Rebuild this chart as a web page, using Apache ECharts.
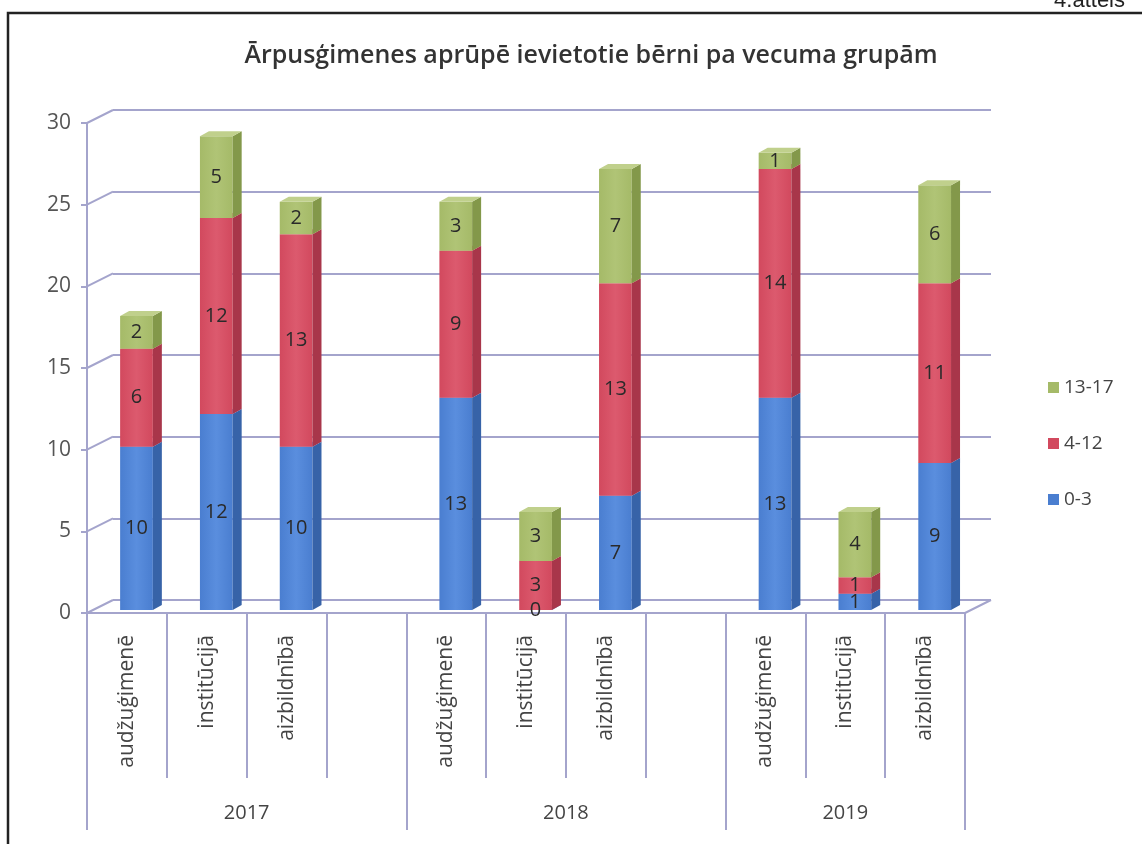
<!DOCTYPE html>
<html>
<head>
<meta charset="utf-8">
<script src="https://cdn.jsdelivr.net/npm/echarts@6/dist/echarts.min.js"></script>
<style>
  html, body { margin: 0; padding: 0; background: #fff; }
  #chart { width: 1142px; height: 844px; }
</style>
</head>
<body>
<div id="chart"></div>
<script>
// kategorijas (tukšās ir atstarpes starp gadiem)
const categories = ['audžuģimenē', 'institūcijā', 'aizbildnībā', '',
                    'audžuģimenē', 'institūcijā', 'aizbildnībā', '',
                    'audžuģimenē', 'institūcijā', 'aizbildnībā'];
const years = ['2017', '2018', '2019'];
const groupSizes = [4, 4, 3];
const yTicks = [0, 5, 10, 15, 20, 25, 30];

const age0_3 = [10, 12, 10, null, 13, 0, 7, null, 13, 1, 9];
const age4_12 = [6, 12, 13, null, 9, 3, 13, null, 14, 1, 11];
const age13_17 = [2, 5, 2, null, 3, 3, 7, null, 1, 4, 6];

const groups = [
  { name: '0-3', values: age0_3, front: '#4a7ed0', light: '#5a8ede', side: '#3763a8', top: '#76a0e2' },
  { name: '4-12', values: age4_12, front: '#d2495e', light: '#dc5a6e', side: '#a8364a', top: '#e07486' },
  { name: '13-17', values: age13_17, front: '#a5ba68', light: '#b0c476', side: '#83984a', top: '#c0d08c' }
];

// grupu robežas un centri uz x ass
let bounds = [0], centers = [];
groupSizes.forEach(function (s) {
  let start = bounds[bounds.length - 1];
  bounds.push(start + s);
  centers.push(start + s / 2);
});

const DX = 26, DY = -13;     // aizmugures sienas nobīde
const BDX = 9, BDY = -5;     // stabiņa dziļums

var myChart = echarts.init(document.getElementById('chart'));

let stackBase = categories.map(() => 0);
let barSeries = groups.map(function (g) {
  let data = g.values.map(function (v, i) {
    if (v == null) return [i, null, null, null];
    let b = stackBase[i];
    stackBase[i] += v;
    return [i, b, b + v, v];
  });
  return {
    name: g.name,
    type: 'custom',
    xAxisIndex: 0,
    yAxisIndex: 0,
    itemStyle: { color: g.front },
    data: data,
    renderItem: function (params, api) {
      if (api.value(3) == null || isNaN(api.value(3))) return;
      let slotW = api.size([1, 0])[0];
      let cx = api.coord([api.value(0), 0])[0] + slotW * 0.12;
      let w = slotW * 0.41;
      let yb = api.coord([0, api.value(1)])[1] - 3;
      let yt = api.coord([0, api.value(2)])[1] - 3;
      let l = cx - w / 2, r = cx + w / 2;
      return {
        type: 'group',
        children: [
          { type: 'rect', shape: { x: l, y: yt, width: w, height: yb - yt },
            style: { fill: new echarts.graphic.LinearGradient(0, 0, 1, 0, [
              { offset: 0, color: g.front }, { offset: 0.5, color: g.light }, { offset: 1, color: g.front }]) } },
          { type: 'polygon', shape: { points: [[r, yt], [r + BDX, yt + BDY], [r + BDX, yb + BDY], [r, yb]] },
            style: { fill: g.side } },
          { type: 'polygon', shape: { points: [[l, yt], [l + BDX, yt + BDY], [r + BDX, yt + BDY], [r, yt]] },
            style: { fill: g.top } },
          { type: 'text', z2: 100,
            style: { text: String(api.value(3)), x: cx, y: (yt + yb) / 2,
              align: 'center', verticalAlign: 'middle',
              font: '20px "Open Sans", sans-serif', fill: '#2a2a2a' } }
        ]
      };
    }
  };
});

let option = {
  animation: false,
  backgroundColor: '#fff',
  title: [{
    text: 'Ārpusģimenes aprūpē ievietotie bērni pa vecuma grupām',
    left: 586, top: 38, textAlign: 'center',
    textStyle: { fontFamily: 'Open Sans', fontSize: 25, fontWeight: 600, color: '#333' }
  }, {
    text: '4.attēls',
    right: 12, top: -15,
    textStyle: { fontFamily: 'Liberation Sans', fontSize: 22, fontWeight: 'normal', color: '#222' }
  }],
  graphic: [{
    type: 'rect', shape: { x: 8, y: 13, width: 1160, height: 860 },
    style: { fill: 'none', stroke: '#222', lineWidth: 2.5 }, silent: true
  }],
  legend: {
    orient: 'vertical', left: 1043, top: 373, itemGap: 37,
    itemWidth: 11, itemHeight: 11, icon: 'rect',
    data: ['13-17', '4-12', '0-3'],
    textStyle: { fontFamily: 'Open Sans', fontSize: 19, color: '#444' }
  },
  grid: [
    { left: 87, right: 177, top: 123, bottom: 231 },
    { left: 87 + DX, right: 177 - DX, top: 123 + DY, bottom: 231 - DY }
  ],
  xAxis: [{
    type: 'category', gridIndex: 0, data: categories, position: 'bottom',
    axisLine: { lineStyle: { color: '#a4a4cc', width: 2 } },
    axisTick: { show: true, interval: 0, length: 165, lineStyle: { color: '#a4a4cc', width: 2 } },
    axisLabel: { interval: 0, rotate: 90, margin: 22, fontFamily: 'Open Sans', fontSize: 21, color: '#444' }
  }, {
    type: 'value', gridIndex: 0, position: 'bottom', min: 0, max: categories.length,
    axisLine: { show: false },
    splitLine: { show: false },
    axisTick: { show: true, customValues: bounds, length: 217, lineStyle: { color: '#a4a4cc', width: 2 } },
    axisLabel: {
      customValues: centers, margin: 190, fontFamily: 'Open Sans', fontSize: 20, color: '#444',
      formatter: function (v) { let i = centers.indexOf(v); return i >= 0 ? years[i] : ''; }
    }
  }, {
    type: 'category', gridIndex: 1, data: categories, show: false
  }],
  yAxis: [{
    type: 'value', gridIndex: 0, min: 0, max: 30, interval: 5,
    axisLine: { show: true, lineStyle: { color: '#a4a4cc', width: 2 } },
    axisTick: { show: true, length: 6, lineStyle: { color: '#a4a4cc', width: 2 } },
    splitLine: { show: false },
    axisLabel: { margin: 16, fontFamily: 'Open Sans', fontSize: 21, color: '#555' }
  }, {
    type: 'value', gridIndex: 1, min: 0, max: 30, interval: 5,
    axisLine: { show: false }, axisTick: { show: false }, axisLabel: { show: false },
    splitLine: { show: true, lineStyle: { color: '#a4a4cc', width: 2 } }
  }],
  series: [{
    // diagonālās līnijas no priekšējās ass uz aizmugures sienu
    type: 'custom', xAxisIndex: 0, yAxisIndex: 0, silent: true, z: 1,
    data: yTicks.map(v => [v]),
    renderItem: function (params, api) {
      let cs = params.coordSys;
      let y = api.coord([0, api.value(0)])[1];
      let children = [{ type: 'line', shape: { x1: cs.x, y1: y, x2: cs.x + DX, y2: y + DY },
        style: { stroke: '#a4a4cc', lineWidth: 2 } }];
      if (api.value(0) === 0) {
        children.push({ type: 'line', shape: { x1: cs.x + cs.width, y1: y, x2: cs.x + cs.width + DX, y2: y + DY },
          style: { stroke: '#a4a4cc', lineWidth: 2 } });
      }
      return { type: 'group', children: children };
    }
  }].concat(barSeries)
};
myChart.setOption(option);
</script>
</body>
</html>
